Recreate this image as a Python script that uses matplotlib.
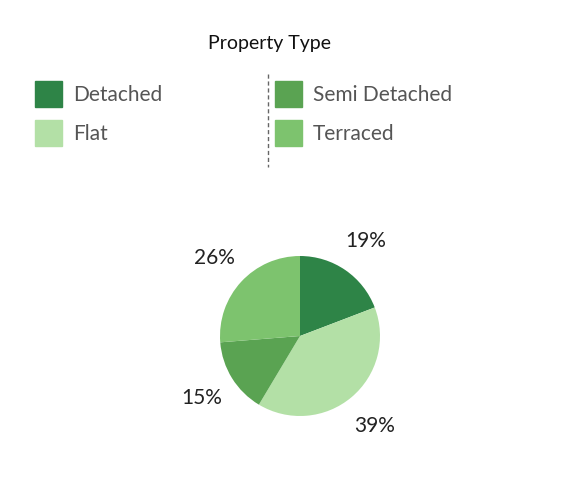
import matplotlib
matplotlib.use("Agg")
import matplotlib.pyplot as plt
from matplotlib.patches import Rectangle
from matplotlib.lines import Line2D

categories = ["Detached", "Flat", "Semi Detached", "Terraced"]
values = [19, 39, 15, 26]
colors = {"Detached": "#2e8447", "Semi Detached": "#5aa352", "Flat": "#b3e0a6", "Terraced": "#7dc36e"}

W, H = 564, 485
fig = plt.figure(figsize=(W/100, H/100), dpi=100)
plt.rcParams['font.family'] = ['Lato', 'DejaVu Sans']

fig.text(270/W, 1-43/H, "Property Type", ha="center", va="center", fontsize=14, color="#111")
legend_items = [("Detached", 35, 95), ("Flat", 35, 134), ("Semi Detached", 275, 95), ("Terraced", 275, 134)]
for name, x, y in legend_items:
    fig.patches.append(Rectangle((x/W, 1-(y+13)/H), 27/W, 26/H, transform=fig.transFigure, color=colors[name]))
    fig.text((x+38)/W, 1-y/H, name, ha="left", va="center", fontsize=15, color="#555")
fig.lines.append(Line2D([268/W, 268/W], [1-75/H, 1-168/H], transform=fig.transFigure,
                        color="#666", linestyle=(0, (3, 2)), linewidth=1))

cx, cy, r = 300, 337, 80
ax = fig.add_axes([(cx-r)/W, (H-cy-r)/H, 2*r/W, 2*r/H])
wedges, texts, autotexts = ax.pie(values, colors=[colors[c] for c in categories], startangle=90,
                                  counterclock=False, autopct="%d%%", pctdistance=1.45,
                                  textprops={"fontsize": 15, "color": "#222"})
ax.set_xlim(-1, 1); ax.set_ylim(-1, 1)
ax.set_aspect("equal")
fig.savefig("out.png", dpi=100)
